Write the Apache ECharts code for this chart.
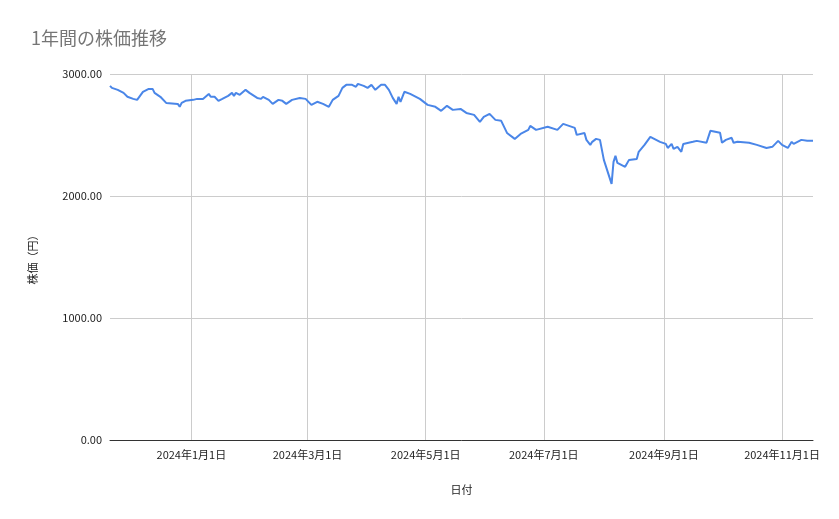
<!DOCTYPE html>
<html>
<head>
<meta charset="utf-8">
<script src="https://cdn.jsdelivr.net/npm/echarts@6/dist/echarts.min.js"></script>
<style>html,body{margin:0;padding:0;background:#fff}#main{width:839px;height:519px}</style>
</head>
<body>
<div id="main"></div>
<script>
var myChart = echarts.init(document.getElementById('main'));

// 日付
var dates = ['2023-11-20','2023-11-21','2023-11-24','2023-11-27','2023-11-29','2023-12-02','2023-12-04','2023-12-07','2023-12-10','2023-12-12','2023-12-13','2023-12-16','2023-12-19','2023-12-25','2023-12-26','2023-12-27','2023-12-29',
 '2024-01-02','2024-01-04','2024-01-07','2024-01-10','2024-01-11','2024-01-13','2024-01-15','2024-01-17','2024-01-20','2024-01-22','2024-01-23','2024-01-24','2024-01-26','2024-01-29','2024-01-31',
 '2024-02-04','2024-02-06','2024-02-07','2024-02-10','2024-02-12','2024-02-15','2024-02-17','2024-02-19','2024-02-22','2024-02-26','2024-02-29',
 '2024-03-03','2024-03-06','2024-03-09','2024-03-12','2024-03-14','2024-03-17','2024-03-19','2024-03-21','2024-03-24','2024-03-26','2024-03-27','2024-03-30',
 '2024-04-01','2024-04-03','2024-04-05','2024-04-08','2024-04-10','2024-04-12','2024-04-14','2024-04-16','2024-04-17','2024-04-18','2024-04-20','2024-04-23','2024-04-25','2024-04-28',
 '2024-05-02','2024-05-06','2024-05-09','2024-05-12','2024-05-15','2024-05-19','2024-05-22','2024-05-26','2024-05-29','2024-05-31',
 '2024-06-03','2024-06-06','2024-06-09','2024-06-12','2024-06-16','2024-06-19','2024-06-23','2024-06-24','2024-06-27',
 '2024-07-03','2024-07-08','2024-07-11','2024-07-17','2024-07-18','2024-07-22','2024-07-23','2024-07-25','2024-07-26','2024-07-28','2024-07-30',
 '2024-08-01','2024-08-05','2024-08-06','2024-08-07','2024-08-08','2024-08-12','2024-08-14','2024-08-18','2024-08-19','2024-08-22','2024-08-25','2024-08-30',
 '2024-09-02','2024-09-03','2024-09-05','2024-09-06','2024-09-08','2024-09-10','2024-09-11','2024-09-16','2024-09-18','2024-09-23','2024-09-25','2024-09-30',
 '2024-10-01','2024-10-03','2024-10-06','2024-10-07','2024-10-09','2024-10-15','2024-10-19','2024-10-24','2024-10-27','2024-10-30',
 '2024-11-01','2024-11-04','2024-11-06','2024-11-07','2024-11-11','2024-11-14','2024-11-17'];
// 株価（円）
var prices = [2903,2886,2870,2845,2813,2796,2788,2854,2878,2878,2845,2813,2763,2755,2731,2763,2780,
 2788,2796,2796,2837,2813,2813,2780,2796,2821,2845,2821,2845,2829,2870,2845,
 2804,2796,2813,2788,2755,2788,2780,2755,2788,2804,2796,
 2747,2772,2755,2731,2788,2821,2886,2911,2911,2895,2919,2903,
 2886,2911,2870,2911,2911,2870,2804,2755,2813,2772,2854,2837,2821,2796,
 2747,2731,2698,2739,2706,2714,2681,2665,2608,2649,
 2673,2624,2616,2517,2468,2509,2542,2575,2542,
 2567,2542,2591,2558,2501,2517,2460,2419,2444,2468,2460,
 2296,2099,2280,2329,2271,2239,2296,2304,2362,2419,2485,2444,
 2427,2394,2427,2386,2403,2362,2427,2444,2452,2436,2534,2518,
 2436,2460,2477,2436,2444,2436,2419,2394,2403,2452,
 2419,2394,2444,2427,2460,2452,2452];
var tickDates = ['2024-01-01','2024-03-01','2024-05-01','2024-07-01','2024-09-01','2024-11-01'];

function ts(d) { return +new Date(d + 'T00:00:00'); }
var seriesData = dates.map(function (d, i) { return [ts(d), prices[i]]; });
var fontJP = 'Noto Sans CJK JP';

var option = {
    backgroundColor: '#fff',
    title: {
        text: '1年間の株価推移',
        left: 26, top: 24,
        textStyle: { color: '#757575', fontSize: 18, fontWeight: 'normal', fontFamily: fontJP }
    },
    grid: { left: 110, right: 26, top: 74, bottom: 79 },
    xAxis: {
        type: 'value',
        min: ts('2023-11-20'),
        max: ts('2024-11-17'),
        name: '日付',
        nameLocation: 'middle',
        nameGap: 44,
        nameTextStyle: { color: '#222', fontSize: 11, fontFamily: fontJP },
        axisLine: { onZero: false, lineStyle: { color: '#333' } },
        axisTick: { show: false },
        axisLabel: { show: false },
        splitLine: { show: false }
    },
    yAxis: {
        type: 'value',
        min: 0, max: 3000, interval: 1000,
        name: '株価（円）',
        nameLocation: 'middle',
        nameGap: 72,
        nameTextStyle: { color: '#222', fontSize: 11, fontFamily: fontJP },
        axisLine: { show: false },
        axisTick: { show: false },
        axisLabel: { color: '#222', fontSize: 11, fontFamily: fontJP, formatter: function (v) { return v.toFixed(2); } },
        splitLine: { lineStyle: { color: '#cccccc' } }
    },
    series: [{
        type: 'line',
        data: seriesData,
        showSymbol: false,
        lineStyle: { color: '#4a86e8', width: 2 },
        itemStyle: { color: '#4a86e8' },
        z: 3,
        markLine: {
            silent: true,
            symbol: ['none', 'none'],
            z: 1,
            lineStyle: { color: '#cccccc', type: 'solid', width: 1 },
            label: {
                position: 'start',
                distance: 9,
                color: '#222', fontSize: 11, fontFamily: fontJP,
                formatter: function (p) {
                    var d = new Date(p.value);
                    return d.getFullYear() + '年' + (d.getMonth() + 1) + '月' + d.getDate() + '日';
                }
            },
            data: tickDates.map(function (d) { return { xAxis: ts(d) }; })
        }
    }]
};
myChart.setOption(option);
</script>
</body>
</html>
